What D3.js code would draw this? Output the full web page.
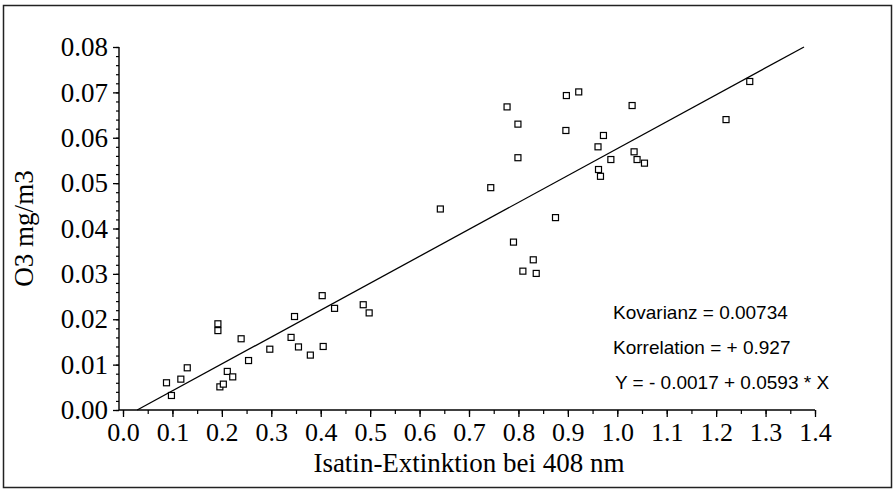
<!DOCTYPE html>
<html>
<head>
<meta charset="utf-8">
<script src="https://cdn.jsdelivr.net/npm/d3@7"></script>
<style>
  html, body { margin: 0; padding: 0; background: #fff; }
  svg { display: block; }
</style>
</head>
<body>
<svg id="chart" width="896" height="490"></svg>
<script>
// ---- data ----
const isatinX = [0.088, 0.098, 0.117, 0.130, 0.192, 0.192, 0.196, 0.203, 0.211, 0.222,
                 0.239, 0.254, 0.297, 0.340, 0.347, 0.355, 0.379, 0.403, 0.405, 0.428,
                 0.486, 0.498, 0.642, 0.744, 0.777, 0.799, 0.799, 0.790, 0.830, 0.809,
                 0.836, 0.875, 0.897, 0.922, 0.896, 0.972, 0.961, 0.987, 0.962, 0.966,
                 1.030, 1.034, 1.040, 1.055, 1.220, 1.268];
const ozoneY  = [0.0060, 0.0032, 0.0068, 0.0093, 0.0190, 0.0175, 0.0051, 0.0057, 0.0085, 0.0073,
                 0.0157, 0.0109, 0.0134, 0.0160, 0.0206, 0.0139, 0.0121, 0.0252, 0.0140, 0.0224,
                 0.0232, 0.0214, 0.0443, 0.0490, 0.0668, 0.0630, 0.0556, 0.0370, 0.0331, 0.0306,
                 0.0301, 0.0424, 0.0693, 0.0701, 0.0616, 0.0605, 0.0580, 0.0552, 0.0530, 0.0515,
                 0.0671, 0.0569, 0.0552, 0.0544, 0.0640, 0.0724];
const xTickValues = [0.0, 0.1, 0.2, 0.3, 0.4, 0.5, 0.6, 0.7, 0.8, 0.9, 1.0, 1.1, 1.2, 1.3, 1.4];
const yTickValues = [0.00, 0.01, 0.02, 0.03, 0.04, 0.05, 0.06, 0.07, 0.08];
const regIntercept = -0.0017;
const regSlope = 0.0593;
const statLines = ["Kovarianz = 0.00734", "Korrelation = + 0.927", "Y = - 0.0017 + 0.0593 * X"];
const xTitle = "Isatin-Extinktion bei 408 nm";
const yTitle = "O3 mg/m3";

const data = isatinX.map((v, i) => ({x: v, y: ozoneY[i]}));

// ---- layout ----
const svg = d3.select("#chart");
const x = d3.scaleLinear().domain([0, 1.4]).range([123, 815]);
const y = d3.scaleLinear().domain([0, 0.08]).range([410, 47]);
const yAxisX = 119;
const serif = "'Liberation Serif', 'Times New Roman', serif";
const sans = "'Liberation Sans', Arial, sans-serif";

// outer frame
svg.append("rect").attr("x", 3.5).attr("y", 5.5).attr("width", 888).attr("height", 482)
  .attr("fill", "none").attr("stroke", "#222").attr("stroke-width", 1.5);

// y axis
const yMinor = d3.range(0, 0.0801, 0.002);
svg.append("g").attr("transform", `translate(${yAxisX},0)`)
  .call(d3.axisLeft(y).tickValues(yMinor).tickSize(3).tickFormat(""))
  .call(g => g.select(".domain").remove())
  .call(g => g.selectAll("line").attr("stroke", "#000").attr("stroke-width", 1.2));
const yAx = svg.append("g").attr("transform", `translate(${yAxisX},0)`)
  .call(d3.axisLeft(y).tickValues(yTickValues).tickSize(6).tickPadding(5)
        .tickFormat(d3.format(".2f")))
  .call(g => g.select(".domain").remove());
yAx.selectAll("line").attr("stroke", "#000").attr("stroke-width", 1.3);
yAx.selectAll("text").attr("font-family", serif).attr("font-size", 27).attr("fill", "#000");
svg.append("line").attr("x1", yAxisX).attr("x2", yAxisX).attr("y1", y(0.08)).attr("y2", y(0))
  .attr("stroke", "#000").attr("stroke-width", 1.4);

// x axis
const xMinor = d3.range(0, 1.401, 0.05);
svg.append("g").attr("transform", `translate(0,${y(0)})`)
  .call(d3.axisBottom(x).tickValues(xMinor).tickSize(4).tickFormat(""))
  .call(g => g.select(".domain").remove())
  .call(g => g.selectAll("line").attr("stroke", "#000").attr("stroke-width", 1.2));
const xAx = svg.append("g").attr("transform", `translate(0,${y(0)})`)
  .call(d3.axisBottom(x).tickValues(xTickValues).tickSize(7).tickPadding(6)
        .tickFormat(d3.format(".1f")))
  .call(g => g.select(".domain").remove());
xAx.selectAll("line").attr("stroke", "#000").attr("stroke-width", 1.3);
xAx.selectAll("text").attr("font-family", serif).attr("font-size", 26).attr("fill", "#000");
svg.append("line").attr("x1", yAxisX).attr("x2", x(1.4)).attr("y1", y(0)).attr("y2", y(0))
  .attr("stroke", "#000").attr("stroke-width", 1.4);

// axis titles
svg.append("text").attr("x", 469).attr("y", 471.5).attr("text-anchor", "middle")
  .attr("font-family", serif).attr("font-size", 27).text(xTitle);
svg.append("text").attr("transform", "translate(33,228.5) rotate(-90)").attr("text-anchor", "middle")
  .attr("font-family", serif).attr("font-size", 27).text(yTitle);

// regression line, clipped to the 0..0.08 value range
const xStart = (0 - regIntercept) / regSlope;
const xEnd = (0.08 - regIntercept) / regSlope;
svg.append("line")
  .attr("x1", x(xStart)).attr("y1", y(regIntercept + regSlope * xStart))
  .attr("x2", x(xEnd)).attr("y2", y(regIntercept + regSlope * xEnd))
  .attr("stroke", "#000").attr("stroke-width", 1.3);

// points
const s = 6;
svg.append("g").selectAll("rect").data(data).join("rect")
  .attr("x", d => x(d.x) - s / 2).attr("y", d => y(d.y) - s / 2)
  .attr("width", s).attr("height", s)
  .attr("fill", "#fff").attr("stroke", "#000").attr("stroke-width", 1.2);

// statistics
svg.append("g").selectAll("text").data(statLines).join("text")
  .attr("x", (d, i) => i === 2 ? 615 : 613)
  .attr("y", (d, i) => [319, 353.5, 389][i])
  .attr("font-family", sans).attr("font-size", 19).attr("fill", "#000")
  .text(d => d);
</script>
</body>
</html>
